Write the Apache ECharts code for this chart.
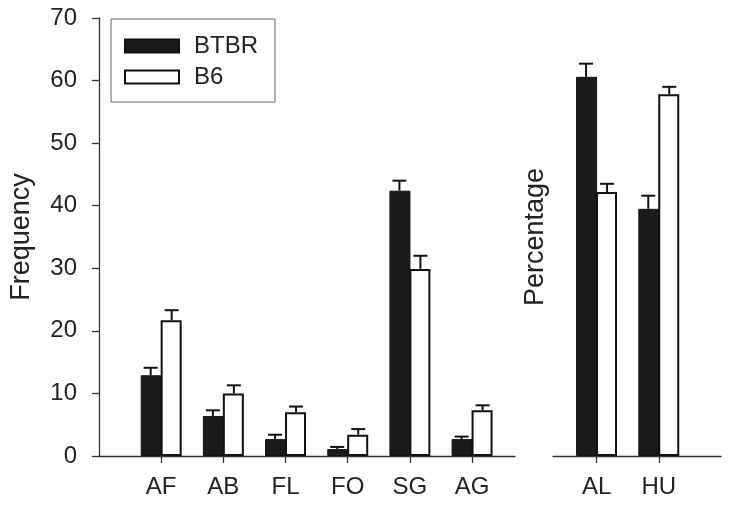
<!DOCTYPE html>
<html>
<head>
<meta charset="utf-8">
<script src="https://cdn.jsdelivr.net/npm/echarts@6/dist/echarts.min.js"></script>
<style>html,body{margin:0;padding:0;background:#fff}#c{width:731px;height:506px}</style>
</head>
<body>
<div id="c"></div>
<script>
// ---- data ----
const categoriesLeft = ['AF', 'AB', 'FL', 'FO', 'SG', 'AG'];
const btbrLeft = [12.9, 6.4, 2.7, 1.1, 42.4, 2.7];
const btbrLeftErr = [1.2, 0.9, 0.7, 0.35, 1.6, 0.4];
const b6Left = [21.7, 10.0, 7.0, 3.4, 29.9, 7.3];
const b6LeftErr = [1.6, 1.3, 0.9, 0.9, 2.1, 0.8];

const categoriesRight = ['AL', 'HU'];
const btbrRight = [60.6, 39.5];
const btbrRightErr = [2.1, 2.1];
const b6Right = [42.2, 57.8];
const b6RightErr = [1.3, 1.2];

const yTicks = [0, 10, 20, 30, 40, 50, 60, 70];

// ---- build ----
const posL = categoriesLeft.map((c, i) => i + 1);
const posR = categoriesRight.map((c, i) => i + 1);
const BW = 21;
const FONT = 'Liberation Sans, Arial, sans-serif';
const TXT = '#222';
const AX = '#333';

function pairs(pos, vals) { return vals.map((v, i) => [pos[i], v]); }
function triples(pos, vals, errs) { return vals.map((v, i) => [pos[i], v, errs[i]]); }

function errRender(offset) {
  return function (params, api) {
    const x = api.value(0), y = api.value(1), e = api.value(2);
    const p0 = api.coord([x, y]);
    const p1 = api.coord([x, y + e]);
    const cx = p0[0] + offset;
    const st = { stroke: '#111', lineWidth: 2 };
    return {
      type: 'group',
      children: [
        { type: 'line', shape: { x1: cx, y1: p0[1], x2: cx, y2: p1[1] }, style: st },
        { type: 'line', shape: { x1: cx - 7, y1: p1[1], x2: cx + 7, y2: p1[1] }, style: st }
      ]
    };
  };
}

const blackStyle = { color: '#1a1a1a', borderColor: '#111', borderWidth: 1 };
const whiteStyle = { color: '#ffffff', borderColor: '#111', borderWidth: 2 };

function xAxisDef(gi, min, max, pos, cats) {
  return {
    type: 'value', gridIndex: gi, min: min, max: max,
    splitLine: { show: false },
    axisLine: { show: true, lineStyle: { color: AX, width: 1.3 } },
    axisTick: { show: true, length: 7, lineStyle: { color: AX, width: 1.3 }, customValues: pos },
    axisLabel: { show: true, customValues: pos, margin: 19, color: TXT, fontSize: 24, fontFamily: FONT,
      formatter: v => cats[Math.round(v) - 1] || '' }
  };
}

const option = {
  backgroundColor: '#fff',
  animation: false,
  grid: [
    { left: 96, top: 18, width: 419, height: 438 },
    { left: 553, top: 18, width: 168, height: 438 }
  ],
  legend: {
    data: ['BTBR', 'B6'],
    icon: 'rect',
    orient: 'vertical', left: 111, top: 19,
    itemWidth: 54, itemHeight: 13, itemGap: 7,
    borderColor: '#666', borderWidth: 1,
    padding: [15, 17, 13, 13],
    textStyle: { fontSize: 24, color: TXT, fontFamily: FONT, padding: [0, 0, 0, 10] }
  },
  xAxis: [
    xAxisDef(0, 0, 6.69, posL, categoriesLeft),
    xAxisDef(1, 0.3, 3.0, posR, categoriesRight)
  ],
  yAxis: [
    {
      type: 'value', gridIndex: 0, min: yTicks[0], max: yTicks[yTicks.length - 1], interval: 10,
      name: 'Frequency', nameLocation: 'middle', nameGap: 64, nameRotate: 90,
      nameTextStyle: { fontSize: 27, color: TXT, fontFamily: FONT },
      splitLine: { show: false },
      axisLine: { show: true, lineStyle: { color: AX, width: 1.3 } },
      axisTick: { show: true, length: 7, lineStyle: { color: AX, width: 1.3 } },
      axisLabel: { margin: 22, color: TXT, fontSize: 24, fontFamily: FONT }
    },
    {
      type: 'value', gridIndex: 1, min: yTicks[0], max: yTicks[yTicks.length - 1], interval: 10,
      name: 'Percentage', nameLocation: 'middle', nameGap: 4, nameRotate: 90,
      nameTextStyle: { fontSize: 27, color: TXT, fontFamily: FONT },
      splitLine: { show: false },
      axisLine: { show: false }, axisTick: { show: false }, axisLabel: { show: false }
    }
  ],
  series: [
    { name: 'BTBR', type: 'bar', xAxisIndex: 0, yAxisIndex: 0, barWidth: BW, barGap: '-5%',
      itemStyle: blackStyle, data: pairs(posL, btbrLeft) },
    { name: 'B6', type: 'bar', xAxisIndex: 0, yAxisIndex: 0, barWidth: BW, barGap: '-5%',
      itemStyle: whiteStyle, data: pairs(posL, b6Left) },
    { name: 'BTBR', type: 'bar', xAxisIndex: 1, yAxisIndex: 1, barWidth: BW, barGap: '-5%',
      itemStyle: blackStyle, data: pairs(posR, btbrRight) },
    { name: 'B6', type: 'bar', xAxisIndex: 1, yAxisIndex: 1, barWidth: BW, barGap: '-5%',
      itemStyle: whiteStyle, data: pairs(posR, b6Right) },
    { type: 'custom', xAxisIndex: 0, yAxisIndex: 0, renderItem: errRender(-BW / 2),
      data: triples(posL, btbrLeft, btbrLeftErr), encode: { x: 0, y: 1 }, z: 3 },
    { type: 'custom', xAxisIndex: 0, yAxisIndex: 0, renderItem: errRender(BW / 2),
      data: triples(posL, b6Left, b6LeftErr), encode: { x: 0, y: 1 }, z: 3 },
    { type: 'custom', xAxisIndex: 1, yAxisIndex: 1, renderItem: errRender(-BW / 2),
      data: triples(posR, btbrRight, btbrRightErr), encode: { x: 0, y: 1 }, z: 3 },
    { type: 'custom', xAxisIndex: 1, yAxisIndex: 1, renderItem: errRender(BW / 2),
      data: triples(posR, b6Right, b6RightErr), encode: { x: 0, y: 1 }, z: 3 }
  ]
};

const chart = echarts.init(document.getElementById('c'), null, { renderer: 'canvas' });
chart.setOption(option);
</script>
</body>
</html>
